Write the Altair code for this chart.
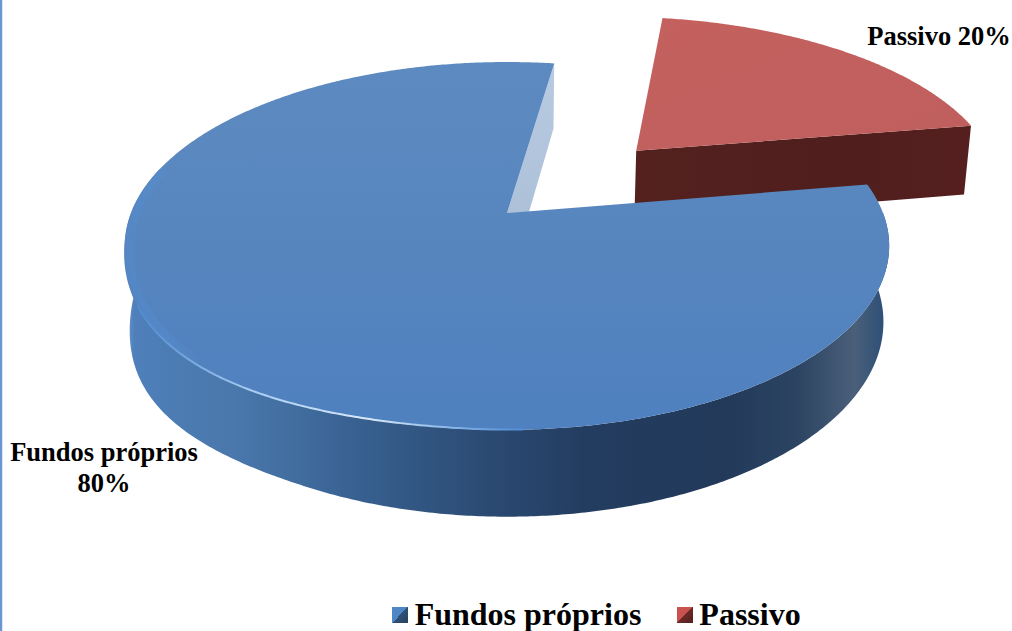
import math

import altair as alt
import pandas as pd

names = ["Fundos próprios", "Passivo"]
shares = [80, 20]

FIRST_ANGLE = 8.5    # where the Passivo slice opens, clockwise from the far side
EXPLODE = 0.523      # how far the Passivo slice is pulled out, in radii
TILT = 0.179         # perspective strength


def project(r, angle, depth=0.0, shift=(0.0, 0.0)):
    """Place a point of the disc (radius r, clockwise angle) on the drawing."""
    a = math.radians(angle)
    u = r * math.sin(a) + shift[0]
    v = r * math.cos(a) + shift[1]
    w = 1 + TILT * v
    shrink = 1 - 0.015 * depth
    return (507 + 376 * shrink * u / w, 213 + (-178 * shrink * v + 74 * depth) / w)


def swell(angle, lo, hi, amount):
    """Fuller curve of the disc's edge over part of its near side."""
    a = angle % 360
    if lo < a < hi:
        return amount * math.sin(math.pi * (a - lo) / (hi - lo)) ** 2
    return 0.0


def arc(start, end, r=1.0, depth=0.0, shift=(0.0, 0.0), bulge=None):
    steps = max(2, int(abs(end - start) * 2))
    points = []
    for i in range(steps + 1):
        angle = start + (end - start) * i / steps
        extra = swell(angle, *bulge) if bulge else 0.0
        points.append(project(r + extra, angle, depth, shift))
    return points


def table(points):
    return pd.DataFrame({"x": [p[0] for p in points], "y": [p[1] for p in points], "i": range(len(points))})


def gradient(stops, x1=0, y1=0, x2=1, y2=0):
    return alt.LinearGradient(
        gradient="linear",
        x1=x1, y1=y1, x2=x2, y2=y2,
        stops=[alt.GradientStop(offset=o, color=c) for o, c in stops],
    )


def path(points, **mark):
    return alt.Chart(table(points)).mark_line(interpolate="linear", **mark).encode(
        x=alt.X("x:Q", scale=alt.Scale(domain=[0, 1012]), axis=None),
        y=alt.Y("y:Q", scale=alt.Scale(domain=[631, 0]), axis=None),
        order=alt.Order("i:Q"),
    )


def polygon(points, fill):
    pts = list(points) + [points[0]]
    return path(pts, fill=fill, strokeWidth=0, strokeOpacity=0)


red_sweep = shares[1] * 3.6
blue_sweep = shares[0] * 3.6
red_start = FIRST_ANGLE
red_end = FIRST_ANGLE + red_sweep
blue_start = red_end
blue_end = blue_start + blue_sweep

mid = math.radians(red_start + red_sweep / 2)
offset = (EXPLODE * math.sin(mid), EXPLODE * math.cos(mid))

TOP_BULGE = (185, 265, 0.03)
FOOT_BULGE = (205, 265, 0.02)

# Pulled-out Passivo slice: cut face first, then its top
red_wall = polygon(
    [project(0, 0, 0, offset), project(1, red_end, 0, offset),
     project(1, red_end, 1, offset), project(0, 0, 1, offset)],
    gradient([(0, "#54211f"), (0.6, "#4f1e1d"), (1, "#561f1f")]),
)
red_top = polygon(
    [project(0, 0, 0, offset)] + arc(red_start, red_end, shift=offset),
    gradient([(0, "#c4615f"), (1, "#bf5f5d")], 0, 0, 1, 1),
)

# Fundos próprios: inner cut, outer wall, top face
blue_cut = polygon(
    [project(0, 0), project(1, blue_end), project(1, blue_end, 1), project(0, 0, 1)],
    gradient([(0, "#b8cbe2"), (1, "#a7bbd3")], 0, 0, 0, 1),
)
blue_wall = polygon(
    arc(90, 285) + arc(285, 90, depth=1, bulge=FOOT_BULGE),
    gradient([
        (0.00, "#6f9bd0"), (0.012, "#4f80bb"), (0.06, "#4c7cb3"), (0.14, "#4a78ad"),
        (0.24, "#3f6a9c"), (0.36, "#335986"), (0.48, "#2b4a72"), (0.60, "#233d60"),
        (0.78, "#22395a"), (0.88, "#2c4462"), (0.955, "#4a5f7a"), (0.975, "#3b5778"),
        (1.00, "#2a4c7a"),
    ]),
)
blue_top = polygon(
    [project(0, 0)] + arc(blue_start, blue_end, bulge=TOP_BULGE),
    gradient([(0, "#5d8ac0"), (0.55, "#5685be"), (1, "#4f80bf")], 0, 0, 0, 1),
)

# Soft glow inside the rim, with a thin bright line along the near edge
rim_glow = path(
    arc(225, 285, r=0.985, bulge=TOP_BULGE),
    stroke=gradient([(0, "#4f8dd6"), (0.55, "#5592da"), (1, "#5a8ac6")]),
    strokeWidth=8, strokeOpacity=0.28,
)
rim_line = path(
    arc(178, 242, r=0.999, bulge=TOP_BULGE),
    stroke=gradient([
        (0, "#4f8ad0"), (0.30, "#a9cdf0"), (0.60, "#d8e9fa"), (0.82, "#86b4e6"), (1, "#4f8dd6"),
    ]),
    strokeWidth=2,
)

axis_line = alt.Chart(pd.DataFrame({"k": [0]})).mark_rule(color="#6a96d2", strokeWidth=2.5).encode(
    x=alt.value(1), y=alt.value(0), y2=alt.value(631)
)


def text_mark(label, px, py, size):
    return alt.Chart(pd.DataFrame({"t": [label]})).mark_text(
        font="Liberation Serif", fontWeight="bold", fontSize=size, color="#000000", align="center", baseline="middle"
    ).encode(text="t:N", x=alt.value(px), y=alt.value(py))


def swatch(px, py, fill):
    return alt.Chart(pd.DataFrame({"k": [0]})).mark_square(size=256, fill=fill, strokeWidth=0, opacity=1).encode(
        x=alt.value(px), y=alt.value(py)
    )


label_passivo = text_mark(f"{names[1]} {shares[1]}%", 939, 37, 26.5)
label_fundos = text_mark(names[0], 104, 453, 26.5)
label_fundos_pct = text_mark(f"{shares[0]}%", 104, 484, 26.5)

legend_blue = swatch(400, 615, gradient([(0, "#4f86c6"), (0.5, "#4f86c6"), (0.5, "#2f5179"), (1, "#24405f")], 0, 0, 1, 1))
legend_red = swatch(685, 615, gradient([(0, "#c9524e"), (0.5, "#c9524e"), (0.5, "#6b2a28"), (1, "#532020")], 0, 0, 1, 1))
legend_text_a = text_mark(names[0], 528, 615, 32)
legend_text_b = text_mark(names[1], 750, 615, 32)

chart = alt.layer(
    red_wall, red_top, blue_cut, blue_wall, blue_top, rim_glow, rim_line, axis_line,
    label_passivo, label_fundos, label_fundos_pct,
    legend_blue, legend_text_a, legend_red, legend_text_b,
).properties(
    width=1012, height=631, padding=0, background="#ffffff",
    autosize=alt.AutoSizeParams(type="none"),
).configure_view(stroke=None)

chart.save("out.html", embed_options={"renderer": "svg", "actions": False})
